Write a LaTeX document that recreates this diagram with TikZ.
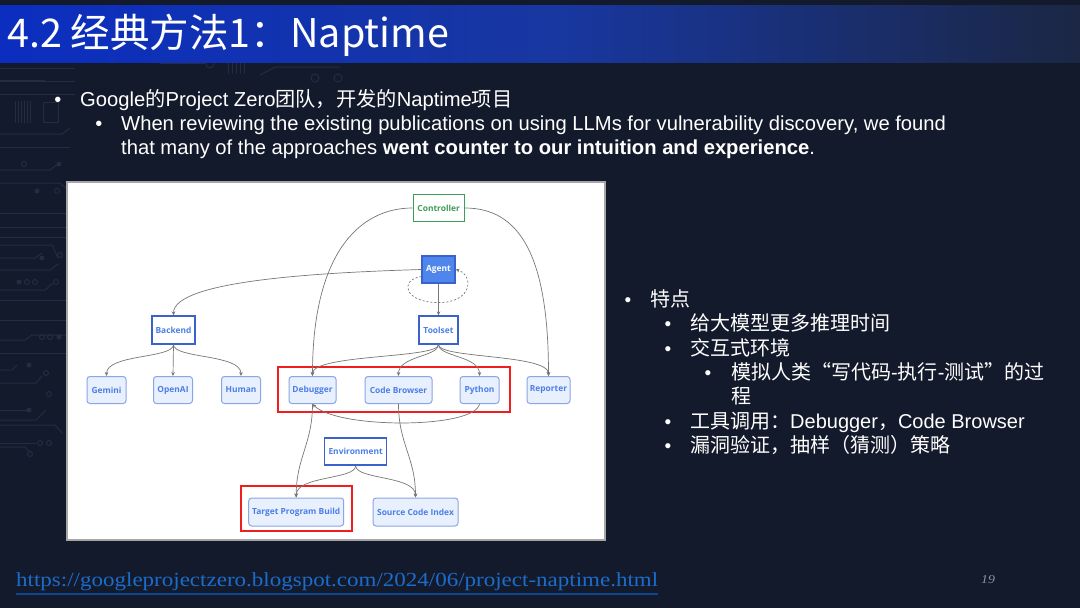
\documentclass[tikz,border=0pt]{standalone}
\usepackage{fontspec}
\setmainfont{Liberation Sans}
\newfontfamily\cjk{Noto Sans CJK SC}
\newfontfamily\diagfont{Open Sans}
\newfontfamily\linkfont{Liberation Serif}[FakeStretch=1.15]
\usetikzlibrary{arrows.meta,calc}
\definecolor{bg}{HTML}{131A2B}
\definecolor{circ}{HTML}{232C40}
\definecolor{barL}{HTML}{0B2EC0}
\definecolor{barM}{HTML}{1837A0}
\definecolor{barR}{HTML}{1B2744}
\definecolor{ctrlgreen}{HTML}{3C9E58}
\definecolor{boxblue}{HTML}{3B62CC}
\definecolor{txtblue}{HTML}{4C7FE6}
\definecolor{leaffill}{HTML}{E8F0FE}
\definecolor{leafdraw}{HTML}{8AA6E6}
\definecolor{agentfill}{HTML}{4F86EC}
\definecolor{edge}{HTML}{777777}
\definecolor{redbox}{HTML}{F01E1E}
\definecolor{linkblue}{HTML}{1C6CCB}
\definecolor{linkline}{HTML}{0E4590}
\definecolor{pagegrey}{HTML}{8A909C}
\begin{document}
\begin{tikzpicture}[x=1pt,y=-1pt,
  dfont/.style={font=\diagfont\bfseries\fontsize{8.4}{9}\selectfont},
  dbox/.style={draw=boxblue,line width=1.2pt,fill=white,text=txtblue,inner sep=0pt,dfont,minimum height=28},
  ctrlbox/.style={draw=ctrlgreen,line width=1.2pt,fill=white,text=ctrlgreen,inner sep=0pt,dfont,minimum height=27},
  agentbox/.style={draw=boxblue,line width=1.2pt,fill=agentfill,text=white,inner sep=0pt,dfont,minimum height=27},
  leaf/.style={draw=leafdraw,line width=1pt,fill=leaffill,text=txtblue,rounded corners=3pt,inner sep=0pt,dfont,minimum height=27},
  arr/.style={draw=edge,line width=0.7pt,-{Stealth[length=4pt,width=3.6pt]}},
  redframe/.style={draw=redbox,line width=1.1pt},
  circline/.style={draw=circ,line width=1pt},
  txt/.style={anchor=base west,inner sep=0pt,text=white},
  bul/.style={anchor=base,inner sep=0pt,text=white}
]
\useasboundingbox (0,0) rectangle (1080,608);
\fill[bg] (0,0) rectangle (1080,608);

% background circuit traces
\begin{scope}[circline]
\draw (0,68) -- (75,68);
\draw (0,81) -- (75,81);
\draw (0,94) -- (75,94);
\foreach \xx in {15,18,21,24,27,30} \draw (\xx,101) -- (\xx,123);
\draw (43,102) rectangle (58,122);
\draw (0,134) -- (62,134) -- (70,128);
\draw (0,147) -- (70,147);
\draw (24,164) circle (2.5);
\draw (0,170) -- (50,170) -- (58,164); \fill[circ] (59,164) circle (2.5);
\draw (0,183) -- (60,183) -- (68,190);
\fill[circ] (37,191) circle (2.5); \draw (57,191) circle (2.5);
\draw (0,213) -- (70,213);
\draw (0,227) -- (70,227);
\draw (0,237) -- (70,237);
\draw (0,245) -- (52,245) -- (58,258);
\draw (0,258) -- (35,258) -- (42,253); \fill[circ] (42,258) circle (2.5); \draw (60,255) circle (2.5);
\draw (0,270) -- (50,270) -- (58,264);
\fill[circ] (19,282) circle (2.5); \draw (27,282) circle (2.5); \draw (35,282) circle (2.5);
\draw (0,290) -- (45,290) -- (53,283); \draw (56,282) circle (2.5);
\draw (0,300) -- (70,300);
\draw (0,320) -- (70,320);
\draw (0,340) -- (25,340) -- (32,335) -- (70,335);
\draw (42,337) circle (2.5); \draw (50,337) circle (2.5); \fill[circ] (59,337) circle (2.5);
\draw (0,353) -- (70,353);
\draw (0,370) -- (12,370) -- (17,365); \fill[circ] (29,365) circle (2.5);
\draw (0,383) -- (36,383) -- (42,376); \draw (46,373) circle (2.5);
\draw (0,410) -- (28,410); \fill[circ] (29,410) circle (2.5);
\draw (0,420) -- (36,420) -- (46,410); \draw (49,394) circle (2.5);
\draw (0,425) -- (55,425) -- (62,433);
\draw (0,443) -- (36,443); \draw (40,443) circle (2.5); \draw (49,443) circle (2.5);
\draw (0,447) -- (25,447) -- (30,452); \draw (30,454) circle (2.5);
\draw (160,63) -- (205,63); \draw (210,64) circle (4);
\foreach \xx in {228,232,236,240,244} \draw (\xx,60) -- (\xx,74);
\draw (260,75) -- (275,67) -- (340,67);
\draw (315,78) circle (4); \draw (338,78) circle (4);
\draw (0,80) -- (45,80);
\end{scope}

% title bar
\shade[left color=barL,right color=barM] (0,5) rectangle (560,62);
\shade[left color=barM,right color=barR] (560,5) rectangle (1080,62);
\node[txt,font=\cjk\fontsize{39.5}{44}\selectfont] (title) at (7,47) {4.2 经典方法1：Naptime};

% top bullets
\node[bul,font=\fontsize{20}{24}\selectfont] (b1) at (58,106) {•};
\node[txt,font=\fontsize{20.2}{24}\selectfont] (t1) at (80,106) {Google{\cjk 的}Project Zero{\cjk 团队，开发的}Naptime{\cjk 项目}};
\node[bul,font=\fontsize{20}{24}\selectfont] (b2) at (99,130) {•};
\node[txt,font=\fontsize{20.2}{24}\selectfont] (t2) at (121,130) {When reviewing the existing publications on using LLMs for vulnerability discovery, we found};
\node[txt,font=\fontsize{20.2}{24}\selectfont] (t3) at (121,154) {that many of the approaches \textbf{went counter to our intuition and experience}.};

% diagram frame
\draw[draw=gray!70,line width=1.5pt,fill=white] (67,182) rectangle (605,540);

% nodes
\node[ctrlbox,minimum width=51] (ctrl) at (438.7,208) {Controller};
\node[agentbox,minimum width=33] (agent) at (438.5,269.5) {Agent};
\node[dbox,minimum width=43] (backend) at (173.5,330) {Backend};
\node[dbox,minimum width=39] (tool) at (438.5,330) {Toolset};
\node[leaf,minimum width=39] (gem) at (106.5,390) {Gemini};
\node[leaf,minimum width=39] (oai) at (173,390) {OpenAI};
\node[leaf,minimum width=39] (hum) at (241,390) {Human};
\node[leaf,minimum width=47] (dbg) at (312.5,390) {Debugger};
\node[leaf,minimum width=67] (cb) at (398.5,390) {Code Browser};
\node[leaf,minimum width=39] (py) at (479.5,390) {Python};
\node[leaf,minimum width=43] (rep) at (548.5,390) {Reporter};
\node[dbox,minimum width=62,minimum height=27,line width=1.5pt] (env) at (355.7,451.5) {Environment};
\node[leaf,minimum width=95,minimum height=28] (tpb) at (296.2,512) {Target Program Build};
\node[leaf,minimum width=85,minimum height=28] (sci) at (415.5,512) {Source Code Index};

% red highlight frames
\draw[redframe] (278,367) rectangle (510,412);
\draw[redframe] (241,486) rectangle (352,531);

% connectors
\draw[arr] (ctrl.west) .. controls +(-55,0) and +(0,-120) .. (dbg.north);
\draw[arr] (ctrl.east) .. controls +(55,0) and +(0,-120) .. (rep.north);
\draw[arr] (agent.west) .. controls +(-100,3) and +(0,-35) .. (backend.north);
\draw[arr] (agent.south) -- (tool.north);
\draw[arr,dashed,dash pattern=on 2pt off 2pt] ([yshift=-7pt]agent.west) .. controls +(-22,3) and +(-35,0) .. ($(agent.south)+(0,19)$)
   .. controls +(35,0) and +(18,5) .. (agent.east);
\draw[arr] (backend.south) .. controls +(0,14) and +(0,-22) .. (gem.north);
\draw[arr] (backend.south) -- (oai.north);
\draw[arr] (backend.south) .. controls +(0,14) and +(0,-22) .. (hum.north);
\draw[arr] (tool.south) .. controls +(0,14) and +(0,-22) .. (dbg.north);
\draw[arr] (tool.south) .. controls +(0,12) and +(0,-20) .. (cb.north);
\draw[arr] (tool.south) .. controls +(0,12) and +(0,-20) .. (py.north);
\draw[arr] (tool.south) .. controls +(0,14) and +(0,-22) .. (rep.north);
\draw[arr] (py.south) .. controls +(-5,25) and +(25,25) .. (dbg.south);
\draw[arr] (dbg.south) .. controls +(0,40) and +(0,-40) .. (tpb.north);
\draw[arr] (cb.south) .. controls +(0,40) and +(0,-40) .. (sci.north);
\draw[arr] (env.south) .. controls +(0,14) and +(0,-22) .. (tpb.north);
\draw[arr] (env.south) .. controls +(0,14) and +(0,-22) .. (sci.north);

% right bullets
\begin{scope}[every node/.append style={font=\cjk\fontsize{20}{22}\selectfont}]
\node[bul,font=\fontsize{19}{22}\selectfont] (rb1) at (628,306) {•};
\node[txt] (r1) at (650,306) {特点};
\node[bul,font=\fontsize{19}{22}\selectfont] (rb2) at (668,330) {•};
\node[txt] (r2) at (690,330) {给大模型更多推理时间};
\node[bul,font=\fontsize{19}{22}\selectfont] (rb3) at (668,355) {•};
\node[txt] (r3) at (690,355) {交互式环境};
\node[bul,font=\fontsize{19}{22}\selectfont] (rb4) at (708,379) {•};
\node[txt] (r4) at (731,379) {模拟人类“写代码{\rmfamily -}执行{\rmfamily -}测试”的过};
\node[txt] (r5) at (731,403) {程};
\node[bul,font=\fontsize{19}{22}\selectfont] (rb5) at (668,428) {•};
\node[txt] (r6) at (690,428) {工具调用：{\rmfamily Debugger}，{\rmfamily Code Browser}};
\node[bul,font=\fontsize{19}{22}\selectfont] (rb6) at (668,452) {•};
\node[txt] (r7) at (690,452) {漏洞验证，抽样（猜测）策略};
\end{scope}

% link and page number
\node[txt,text=linkblue,font=\linkfont\fontsize{20}{22}\selectfont] (link) at (16,586) {https://googleprojectzero.blogspot.com/2024/06/project-naptime.html};
\draw[linkline,line width=2pt] (link.base west) ++(0,8) -- (link.base east |- 0,594);
\node[txt,text=pagegrey,font=\linkfont\itshape\fontsize{12}{14}\selectfont] (pg) at (981,583) {19};
\end{tikzpicture}
\end{document}
